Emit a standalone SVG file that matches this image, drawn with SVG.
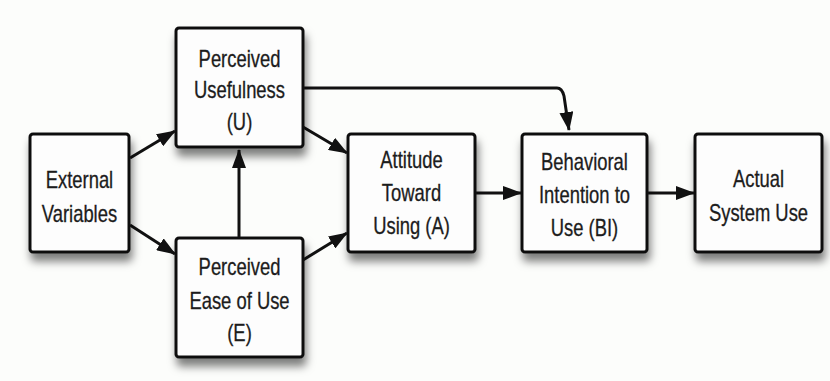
<svg xmlns="http://www.w3.org/2000/svg" width="830" height="381" viewBox="0 0 830 381">
  <defs>
    <filter id="shadow" x="-20%" y="-20%" width="150%" height="160%">
      <feDropShadow dx="2" dy="8" stdDeviation="4.5" flood-color="#000" flood-opacity="0.5"/>
    </filter>
    <marker id="arrow" viewBox="0 0 19 14" refX="18" refY="7" markerWidth="19" markerHeight="14" markerUnits="userSpaceOnUse" orient="auto">
      <path d="M0,0 L19,7 L0,14 Z" fill="#111"/>
    </marker>
  </defs>
  <style>
    .box { fill: #fdfdfd; stroke: #111; stroke-width: 3; filter: url(#shadow); }
    .lbl { font-family: "Liberation Sans", Arial, sans-serif; font-size: 23px; fill: #1c1c1c; stroke: #1c1c1c; stroke-width: 0.3; text-anchor: middle; transform-box: fill-box; transform-origin: center; transform: scaleX(0.8); }
    .edge { fill: none; stroke: #111; stroke-width: 3; marker-end: url(#arrow); }
  </style>
  <rect width="830" height="381" fill="#fcfdfb"/>

  <g id="connectors">
    <line class="edge" x1="130" y1="158" x2="175" y2="131"/>
    <line class="edge" x1="130" y1="225" x2="175" y2="254"/>
    <line class="edge" x1="239" y1="238" x2="239" y2="150"/>
    <line class="edge" x1="303" y1="127" x2="347" y2="153"/>
    <line class="edge" x1="303" y1="260" x2="347" y2="233"/>
    <path class="edge" d="M303,88 L557,88 Q562,88 564,96 L569,130"/>
    <line class="edge" x1="475" y1="193" x2="521" y2="193"/>
    <line class="edge" x1="647" y1="193" x2="694" y2="193"/>
  </g>

  <g id="external-variables">
    <rect class="box" x="30" y="134" width="99" height="118" rx="3"/>
    <text class="lbl" x="79.5" y="188">External</text>
    <text class="lbl" x="79.5" y="222">Variables</text>
  </g>

  <g id="perceived-usefulness">
    <rect class="box" x="176" y="28" width="127" height="119" rx="3"/>
    <text class="lbl" x="239.5" y="67">Perceived</text>
    <text class="lbl" x="239.5" y="98">Usefulness</text>
    <text class="lbl" x="239.5" y="130">(U)</text>
  </g>

  <g id="perceived-ease-of-use">
    <rect class="box" x="176" y="238" width="127" height="119" rx="3"/>
    <text class="lbl" x="239.5" y="275">Perceived</text>
    <text class="lbl" x="239.5" y="309">Ease of Use</text>
    <text class="lbl" x="239.5" y="341">(E)</text>
  </g>

  <g id="attitude">
    <rect class="box" x="348" y="134" width="127" height="118" rx="3"/>
    <text class="lbl" x="411.5" y="168">Attitude</text>
    <text class="lbl" x="411.5" y="201">Toward</text>
    <text class="lbl" x="411.5" y="234">Using (A)</text>
  </g>

  <g id="behavioral-intention">
    <rect class="box" x="522" y="134" width="125" height="118" rx="3"/>
    <text class="lbl" x="584.5" y="170">Behavioral</text>
    <text class="lbl" x="584.5" y="203">Intention to</text>
    <text class="lbl" x="584.5" y="236">Use (BI)</text>
  </g>

  <g id="actual-system-use">
    <rect class="box" x="695" y="134" width="127" height="118" rx="3"/>
    <text class="lbl" x="758.5" y="187">Actual</text>
    <text class="lbl" x="758.5" y="221">System Use</text>
  </g>
</svg>
